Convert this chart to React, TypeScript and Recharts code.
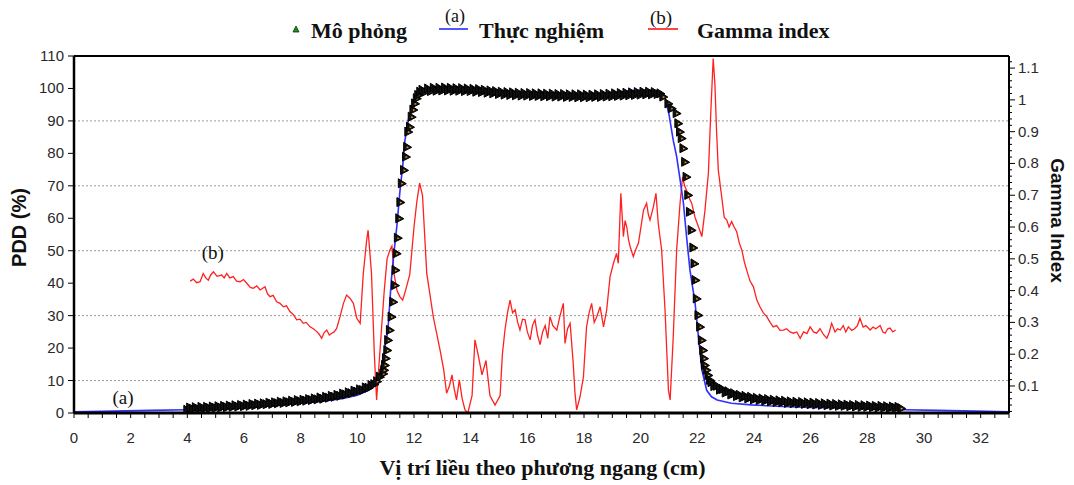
import React from 'react';
import { ComposedChart, Line, Scatter, XAxis, YAxis, ReferenceLine, ReferenceDot } from 'recharts';

// ---- Mô phỏng (simulation) ----
const simX = [
  // left tail
  4.0, 4.1, 4.2, 4.3, 4.4, 4.5, 4.6, 4.7, 4.8, 4.9, 5.0, 5.1, 5.2, 5.3, 5.4, 5.5, 5.6, 5.7, 5.8, 5.9,
  6.0, 6.1, 6.2, 6.3, 6.4, 6.5, 6.6, 6.7, 6.8, 6.9, 7.0, 7.1, 7.2, 7.3, 7.4, 7.5, 7.6, 7.7, 7.8, 7.9,
  8.0, 8.1, 8.2, 8.3, 8.4, 8.5, 8.6, 8.7, 8.8, 8.9, 9.0, 9.1, 9.2, 9.3, 9.4, 9.5, 9.6, 9.7, 9.8, 9.9,
  10.0, 10.1, 10.2, 10.3, 10.4, 10.5, 10.6, 10.7,
  // left penumbra
  10.8, 10.92, 10.95, 10.98, 11.01, 11.06, 11.09, 11.15, 11.21, 11.27, 11.33, 11.35, 11.39, 11.43, 11.48,
  11.52, 11.57, 11.65, 11.72, 11.76, 11.8, 11.86, 11.92, 11.98, 12.04, 12.1, 12.15, 12.22,
  // plateau
  12.3, 12.4, 12.5, 12.6, 12.7, 12.8, 12.9, 13.0, 13.1, 13.2, 13.3, 13.4, 13.5, 13.6, 13.7, 13.8,
  13.9, 14.0, 14.1, 14.2, 14.3, 14.4, 14.5, 14.6, 14.7, 14.8, 14.9, 15.0, 15.1, 15.2, 15.3, 15.4,
  15.5, 15.6, 15.7, 15.8, 15.9, 16.0, 16.1, 16.2, 16.3, 16.4, 16.5, 16.6, 16.7, 16.8, 16.9, 17.0,
  17.1, 17.2, 17.3, 17.4, 17.5, 17.6, 17.7, 17.8, 17.9, 18.0, 18.1, 18.2, 18.3, 18.4, 18.5, 18.6,
  18.7, 18.8, 18.9, 19.0, 19.1, 19.2, 19.3, 19.4, 19.5, 19.6, 19.7, 19.8, 19.9, 20.0, 20.1, 20.2,
  20.3, 20.4, 20.5, 20.6, 20.7,
  // right penumbra
  20.8, 20.98, 21.1, 21.27, 21.33, 21.39, 21.45, 21.51, 21.57, 21.62, 21.68, 21.74, 21.8, 21.86, 21.9,
  21.94, 21.98, 22.04, 22.1, 22.16, 22.21, 22.24, 22.27, 22.33, 22.39, 22.45,
  // right tail
  22.5, 22.6, 22.7, 22.8, 22.9, 23.0, 23.1, 23.2, 23.3, 23.4, 23.5, 23.6, 23.7, 23.8, 23.9, 24.0,
  24.1, 24.2, 24.3, 24.4, 24.5, 24.6, 24.7, 24.8, 24.9, 25.0, 25.1, 25.2, 25.3, 25.4, 25.5, 25.6,
  25.7, 25.8, 25.9, 26.0, 26.1, 26.2, 26.3, 26.4, 26.5, 26.6, 26.7, 26.8, 26.9, 27.0, 27.1, 27.2,
  27.3, 27.4, 27.5, 27.6, 27.7, 27.8, 27.9, 28.0, 28.1, 28.2, 28.3, 28.4, 28.5, 28.6, 28.7, 28.8,
  28.9, 29.0, 29.1, 29.2,
];
const simY = [
  1.0, 1.7, 1.3, 1.8, 1.3, 1.9, 1.4, 1.9, 1.5, 2.0, 1.6, 2.1, 1.7, 2.2, 1.8, 2.3, 1.9, 2.4, 2.0, 2.5,
  2.1, 2.6, 2.2, 2.8, 2.4, 2.9, 2.5, 3.0, 2.7, 3.2, 2.8, 3.3, 3.0, 3.5, 3.1, 3.6, 3.3, 3.8, 3.4, 4.0,
  3.6, 4.1, 3.8, 4.3, 4.0, 4.5, 4.2, 4.8, 4.4, 5.0, 4.7, 5.3, 5.0, 5.6, 5.3, 6.0, 5.7, 6.4, 6.1, 6.9,
  6.6, 7.3, 7.1, 7.9, 7.8, 8.6, 8.9, 9.8,
  11.2, 12.2, 13.3, 14.8, 16.9, 19.4, 22.5, 25.6, 29.7, 34.3, 39.4, 44.1, 49.2, 54, 60,
  65, 70.8, 74.9, 79, 82, 86.7, 88.2, 91.3, 93.5, 95.4, 97, 98, 99.0,
  99.6, 99.0, 100.0, 99.2, 100.2, 99.3, 100.2, 99.4, 100.3, 99.4, 100.2, 99.3, 100.1, 99.3, 100.1, 99.2,
  100.0, 99.2, 99.9, 99.0, 99.8, 98.9, 99.6, 98.7, 99.4, 98.5, 99.2, 98.3, 99.0, 98.1, 98.9, 98.0,
  98.8, 97.9, 98.7, 97.8, 98.6, 97.8, 98.6, 97.7, 98.5, 97.7, 98.5, 97.6, 98.4, 97.6, 98.4, 97.5,
  98.3, 97.5, 98.3, 97.4, 98.2, 97.4, 98.2, 97.3, 98.2, 97.3, 98.1, 97.3, 98.1, 97.4, 98.2, 97.4,
  98.3, 97.5, 98.4, 97.6, 98.5, 97.7, 98.6, 97.8, 98.7, 97.9, 98.8, 98.0, 98.9, 98.1, 99.0, 98.2,
  99.0, 98.2, 98.9, 98.3, 98.5,
  97.5, 95.4, 93.9, 92.4, 89.3, 86.7, 84.7, 81.6, 77.4, 72.8, 67.2, 62, 56.4, 51, 46.1,
  41, 35.3, 30.2, 26.6, 22.5, 19.4, 16.9, 14.8, 13.3, 11.7, 10.2,
  9.5, 8.3, 8.4, 7.2, 7.4, 6.3, 6.7, 5.7, 6.1, 5.2, 5.6, 4.8, 5.3, 4.5, 5.0, 4.2,
  4.7, 4.0, 4.5, 3.8, 4.3, 3.6, 4.1, 3.4, 3.9, 3.3, 3.8, 3.1, 3.6, 3.0, 3.5, 2.9,
  3.4, 2.8, 3.3, 2.7, 3.2, 2.6, 3.1, 2.5, 3.0, 2.4, 2.9, 2.3, 2.8, 2.2, 2.7, 2.2,
  2.6, 2.1, 2.5, 2.0, 2.5, 1.9, 2.4, 1.9, 2.3, 1.8, 2.2, 1.7, 2.2, 1.7, 2.1, 1.6,
  2.0, 1.6, 1.9, 1.5,
];

// ---- Thực nghiệm (measurement) ----
const expX = [
  0, 1.0, 2.7, 4.0, 5.0, 6.0, 7.0, 8.0, 8.8, 9.5, 10.0, 10.4, 10.6, 10.75, 10.85, 10.95, 11.05, 11.1,
  11.2, 11.3, 11.4, 11.5, 11.6, 11.68, 11.8, 11.95, 12.1, 12.4, 13.0, 14.0, 14.6, 15.2, 16.0, 17.0,
  18.0, 18.6, 19.2, 19.8, 20.4, 20.7, 20.85, 21.0, 21.15, 21.27, 21.39, 21.51, 21.62, 21.74, 21.92,
  22.04, 22.16, 22.33, 22.5, 22.7, 23.2, 23.9, 25.0, 26.0, 27.4, 28.5, 29.3, 30.5, 32.2, 33.0,
];
const expY = [
  0.4, 0.5, 0.8, 1.0, 1.3, 1.7, 2.3, 3.0, 3.6, 4.5, 5.5, 7.0, 8.5, 11, 14, 19, 24, 28,
  41, 50, 58, 68, 76, 84, 90.3, 95, 98.3, 99.4, 99.8, 99.8, 99.3, 98.6, 98.5, 98.6,
  98.3, 98.2, 98.8, 99.4, 99.5, 99.0, 97.5, 92, 84, 79, 72, 64.6, 54.3, 44, 33.9,
  23.5, 13.3, 7, 5.0, 4.0, 3.0, 2.5, 2.0, 1.7, 1.5, 1.2, 1.0, 0.8, 0.5, 0.4,
];

// ---- Gamma index ----
const gammaX = [
  4.1, 4.21, 4.33, 4.45, 4.56, 4.65, 4.74, 4.83, 4.92, 5.05, 5.21, 5.3, 5.39, 5.5, 5.62, 5.74, 5.86, 5.98,
  6.1, 6.22, 6.33, 6.45, 6.57, 6.74, 6.83, 6.92, 7.03, 7.15, 7.27, 7.39, 7.5, 7.62, 7.74, 7.86, 7.98,
  8.09, 8.2, 8.33, 8.45, 8.57, 8.66, 8.74, 8.83, 8.92, 9.01, 9.1, 9.18, 9.27, 9.39, 9.51, 9.62, 9.74,
  9.86, 9.98, 10.1, 10.21, 10.33, 10.38, 10.5, 10.6, 10.68, 10.8, 10.95, 11.05, 11.15, 11.22, 11.3,
  11.4, 11.5, 11.6, 11.7, 11.85, 12.0, 12.1, 12.2, 12.3, 12.45, 12.68, 12.92, 13.05, 13.15, 13.25,
  13.34, 13.42, 13.5, 13.6, 13.7, 13.8, 13.9, 14.05, 14.15, 14.26, 14.4, 14.54, 14.68, 14.86, 15.04,
  15.12, 15.21, 15.3, 15.39, 15.48, 15.57, 15.66, 15.74, 15.83, 15.92, 16.0, 16.1, 16.18, 16.27, 16.36,
  16.45, 16.54, 16.63, 16.72, 16.8, 16.9, 17.04, 17.15, 17.27, 17.33, 17.42, 17.51, 17.62, 17.68,
  17.74, 17.86, 17.98, 18.09, 18.18, 18.27, 18.36, 18.45, 18.57, 18.69, 18.8, 18.92, 19.04, 19.15,
  19.21, 19.3, 19.39, 19.45, 19.51, 19.57, 19.63, 19.74, 19.83, 19.92, 20.01, 20.1, 20.21, 20.27,
  20.33, 20.45, 20.54, 20.62, 20.74, 20.86, 20.98, 21.04, 21.15, 21.27, 21.39, 21.48, 21.55, 21.62,
  21.72, 21.8, 21.92, 22.04, 22.16, 22.27, 22.39, 22.47, 22.56, 22.62, 22.68, 22.74, 22.86, 22.95,
  23.04, 23.12, 23.21, 23.3, 23.39, 23.48, 23.57, 23.66, 23.74, 23.86, 23.98, 24.1, 24.21, 24.33,
  24.45, 24.57, 24.68, 24.8, 24.92, 25.04, 25.15, 25.27, 25.39, 25.51, 25.63, 25.75, 25.87, 25.98,
  26.1, 26.21, 26.33, 26.45, 26.57, 26.66, 26.74, 26.86, 26.95, 27.04, 27.15, 27.24, 27.33, 27.45,
  27.55, 27.65, 27.74, 27.85, 27.95, 28.1, 28.2, 28.3, 28.45, 28.55, 28.63, 28.72, 28.8, 28.9, 29.0,
];
const gammaY = [
  0.43, 0.436, 0.425, 0.428, 0.454, 0.44, 0.433, 0.45, 0.459, 0.445, 0.449, 0.44, 0.454, 0.44, 0.444, 0.43, 0.428, 0.435,
  0.423, 0.41, 0.407, 0.415, 0.402, 0.412, 0.39, 0.381, 0.385, 0.365, 0.36, 0.349, 0.352, 0.334, 0.325, 0.308, 0.31,
  0.297, 0.3, 0.286, 0.28, 0.271, 0.262, 0.25, 0.268, 0.276, 0.26, 0.266, 0.27, 0.281, 0.318, 0.36, 0.386, 0.376,
  0.36, 0.313, 0.297, 0.454, 0.559, 0.59, 0.454, 0.2, 0.056, 0.213, 0.4, 0.5, 0.528, 0.54, 0.45,
  0.4, 0.381, 0.37, 0.4, 0.45, 0.6, 0.68, 0.738, 0.7, 0.454, 0.318, 0.213, 0.15, 0.077, 0.1,
  0.135, 0.09, 0.056, 0.119, 0.06, 0.025, 0.015, 0.07, 0.245, 0.2, 0.135, 0.18, 0.07, 0.04, 0.07,
  0.2, 0.276, 0.33, 0.37, 0.33, 0.34, 0.3, 0.276, 0.31, 0.308, 0.27, 0.245, 0.29, 0.308, 0.26,
  0.23, 0.27, 0.29, 0.25, 0.318, 0.29, 0.276, 0.32, 0.36, 0.234, 0.28, 0.297, 0.171, 0.08,
  0.025, 0.066, 0.129, 0.286, 0.33, 0.36, 0.3, 0.318, 0.349, 0.286, 0.339, 0.444, 0.486, 0.517,
  0.486, 0.706, 0.57, 0.62, 0.6, 0.56, 0.538, 0.507, 0.53, 0.549, 0.6, 0.653, 0.675, 0.64,
  0.622, 0.664, 0.706, 0.612, 0.528, 0.339, 0.087, 0.056, 0.255, 0.528, 0.675, 0.758, 0.73, 0.716,
  0.69, 0.675, 0.63, 0.601, 0.57, 0.653, 0.769, 0.95, 1.13, 1.05, 0.9, 0.779, 0.695, 0.63,
  0.622, 0.6, 0.617, 0.6, 0.585, 0.55, 0.528, 0.49, 0.465, 0.43, 0.412, 0.37, 0.349, 0.33,
  0.318, 0.3, 0.286, 0.29, 0.275, 0.276, 0.28, 0.27, 0.266, 0.27, 0.25, 0.27, 0.265, 0.286,
  0.27, 0.266, 0.28, 0.262, 0.25, 0.27, 0.297, 0.27, 0.28, 0.276, 0.29, 0.27, 0.286, 0.275,
  0.28, 0.29, 0.313, 0.285, 0.29, 0.276, 0.285, 0.28, 0.29, 0.27, 0.266, 0.28, 0.282, 0.27, 0.276,
];

// ---- axis ticks ----
const xTickLabels = [0, 2, 4, 6, 8, 10, 12, 14, 16, 18, 20, 22, 24, 26, 28, 30, 32];
const xTicks = Array.from({ length: 67 }, (_, i) => i * 0.5);
const leftTicks = [0, 10, 20, 30, 40, 50, 60, 70, 80, 90, 100, 110];
const gridValues = [10, 30, 50, 70, 90];
const rightTickLabels = ['0.1', '0.2', '0.3', '0.4', '0.5', '0.6', '0.7', '0.8', '0.9', '1', '1.1'];
const rightTicks = Array.from({ length: 56 }, (_, i) => (i + 1) * 0.02);

const simData = simX.map((x, i) => ({ x, y: simY[i] }));
const expData = expX.map((x, i) => ({ x, y: expY[i] }));
const gammaData = gammaX.map((x, i) => ({ x, y: gammaY[i] }));

const SANS = '"Liberation Sans", Arial, sans-serif';
const SERIF = '"Liberation Serif", "Times New Roman", serif';
const TICK_FILL = '#2a2a2a';

const XTick = (props: any) => {
  const { x, y, payload } = props;
  const v = payload.value;
  const r = Math.round(v);
  const isLabel = Math.abs(v - r) < 1e-6 && xTickLabels.includes(r);
  return (
    <g>
      <line x1={x} x2={x} y1={y} y2={y + 5} stroke="#000" strokeWidth={1} />
      {isLabel && (
        <text x={x} y={y + 30} textAnchor="middle" fontSize={15} fontFamily={SANS} fill={TICK_FILL}>
          {r}
        </text>
      )}
    </g>
  );
};

const LeftTick = (props: any) => {
  const { x, y, payload } = props;
  return (
    <g>
      <line x1={x - 6} x2={x} y1={y} y2={y} stroke="#000" strokeWidth={1} />
      <text x={x - 10} y={y + 5} textAnchor="end" fontSize={15} fontFamily={SANS} fill={TICK_FILL}>
        {payload.value}
      </text>
    </g>
  );
};

const RightTick = (props: any) => {
  const { x, y, payload } = props;
  const k = Math.round(payload.value * 100);
  const major = k % 10 === 0;
  const label = major ? rightTickLabels[k / 10 - 1] : null;
  return (
    <g>
      <line x1={x} x2={x + (major ? 6 : 3)} y1={y} y2={y} stroke="#000" strokeWidth={1} />
      {label && (
        <text x={x + 9} y={y + 5} textAnchor="start" fontSize={15} fontFamily={SANS} fill={TICK_FILL}>
          {label}
        </text>
      )}
    </g>
  );
};

const Tri = (props: any) => {
  const { cx, cy } = props;
  if (cx == null || cy == null) return null;
  const outer = `M${cx - 3.5},${cy - 4.5} L${cx + 4.5},${cy + 0.5} L${cx - 3.5},${cy + 4.5} Z`;
  const inner = `M${cx - 0.5},${cy - 0.6} L${cx + 1.8},${cy + 0.5} L${cx - 0.5},${cy + 1.6} Z`;
  return (
    <g>
      <path d={outer} fill="#111" stroke="#000" strokeWidth={1} />
      <path d={inner} fill="#e8a030" />
    </g>
  );
};

const LeftTitle = (props: any) => {
  const vb = props.viewBox || { x: 0, y: 56, width: 74, height: 357 };
  const cx = vb.x + 19;
  const cy = vb.y + vb.height / 2 - 7;
  return (
    <text x={cx} y={cy} transform={`rotate(-90 ${cx} ${cy})`} textAnchor="middle" dominantBaseline="central"
      fontSize={20} fontWeight="bold" fontFamily={SANS} fill="#111">
      PDD (%)
    </text>
  );
};

const RightTitle = (props: any) => {
  const vb = props.viewBox || { x: 1009, y: 56, width: 65, height: 357 };
  const cx = vb.x + 48;
  const cy = vb.y + vb.height / 2 - 14;
  return (
    <text x={cx} y={cy} transform={`rotate(90 ${cx} ${cy})`} textAnchor="middle" dominantBaseline="central"
      fontSize={19} fontWeight="bold" fontFamily={SANS} fill="#111">
      Gamma Index
    </text>
  );
};

const BottomTitle = (props: any) => {
  const vb = props.viewBox || { x: 74, y: 413, width: 935, height: 72 };
  return (
    <text x={vb.x + vb.width / 2 + 1} y={vb.y + 62} textAnchor="middle" fontSize={22} fontWeight="bold"
      fontFamily={SERIF} fill="#111">
      Vị trí liều theo phương ngang (cm)
    </text>
  );
};

const Legend = () => (
  <svg width={1074} height={50} style={{ position: 'absolute', left: 0, top: 0, pointerEvents: 'none' }}>
    <path d="M293,32 L299,32 L296,26 Z" fill="#1f8a1f" stroke="#0a3a0a" strokeWidth={0.8} />
    <text x={311} y={38} fontSize={22} fontWeight="bold" fontFamily={SERIF} fill="#111">Mô phỏng</text>
    <line x1={439} x2={468} y1={29} y2={29} stroke="#5555ff" strokeWidth={2} />
    <text x={455} y={22} textAnchor="middle" fontSize={18} fontFamily={SERIF} fill="#111">(a)</text>
    <text x={479} y={38} fontSize={22} fontWeight="bold" fontFamily={SERIF} fill="#111">Thực nghiệm</text>
    <line x1={648} x2={678} y1={29} y2={29} stroke="#ff4444" strokeWidth={2} />
    <text x={661} y={24} textAnchor="middle" fontSize={19} fontFamily={SERIF} fill="#111">(b)</text>
    <text x={697} y={38} fontSize={22} fontWeight="bold" fontFamily={SERIF} fill="#111">Gamma index</text>
  </svg>
);

export default function App() {
  return (
    <div style={{ position: 'absolute', left: 0, top: 0, width: 1074, height: 485, background: '#fff' }}>
      <ComposedChart width={1074} height={485} margin={{ top: 56, right: 0, bottom: 0, left: 0 }}>
        <XAxis
          xAxisId="b"
          dataKey="x"
          type="number"
          domain={[0, 33]}
          allowDataOverflow
          ticks={xTicks}
          interval={0}
          tick={<XTick />}
          tickLine={false}
          tickSize={0}
          tickMargin={0}
          height={72}
          axisLine={{ stroke: '#000', strokeWidth: 3 }}
          label={<BottomTitle />}
        />
        <YAxis
          yAxisId="l"
          orientation="left"
          type="number"
          domain={[0, 110]}
          allowDataOverflow
          ticks={leftTicks}
          interval={0}
          tick={<LeftTick />}
          tickLine={false}
          tickSize={0}
          tickMargin={0}
          width={74}
          axisLine={{ stroke: '#000', strokeWidth: 2.5 }}
          label={<LeftTitle />}
        />
        <YAxis
          yAxisId="r"
          orientation="right"
          type="number"
          domain={[0.015, 1.138]}
          allowDataOverflow
          ticks={rightTicks}
          interval={0}
          tick={<RightTick />}
          tickLine={false}
          tickSize={0}
          tickMargin={0}
          width={65}
          axisLine={{ stroke: '#000', strokeWidth: 2 }}
          label={<RightTitle />}
        />
        {gridValues.map((v) => (
          <ReferenceLine key={v} xAxisId="b" yAxisId="l" y={v} stroke="#9a9a9a" strokeDasharray="2 2" strokeWidth={1} />
        ))}
        <ReferenceLine xAxisId="b" yAxisId="l" y={110} stroke="#000" strokeWidth={2} />
        <Line
          xAxisId="b"
          yAxisId="r"
          data={gammaData}
          dataKey="y"
          type="linear"
          stroke="#ff2020"
          strokeWidth={1.3}
          dot={false}
          isAnimationActive={false}
        />
        <Scatter
          xAxisId="b"
          yAxisId="l"
          data={simData}
          dataKey="y"
          shape={<Tri />}
          isAnimationActive={false}
        />
        <Line
          xAxisId="b"
          yAxisId="l"
          data={expData}
          dataKey="y"
          type="linear"
          stroke="#2f2fff"
          strokeWidth={1.6}
          dot={false}
          isAnimationActive={false}
        />
        <ReferenceDot xAxisId="b" yAxisId="l" x={4.9} y={49.5} r={0} stroke="none" fill="none"
          label={{ value: '(b)', position: 'center', fontSize: 19, fontFamily: SERIF, fill: '#111' }} />
        <ReferenceDot xAxisId="b" yAxisId="l" x={1.73} y={5.0} r={0} stroke="none" fill="none"
          label={{ value: '(a)', position: 'center', fontSize: 19, fontFamily: SERIF, fill: '#111' }} />
      </ComposedChart>
      <Legend />
    </div>
  );
}
